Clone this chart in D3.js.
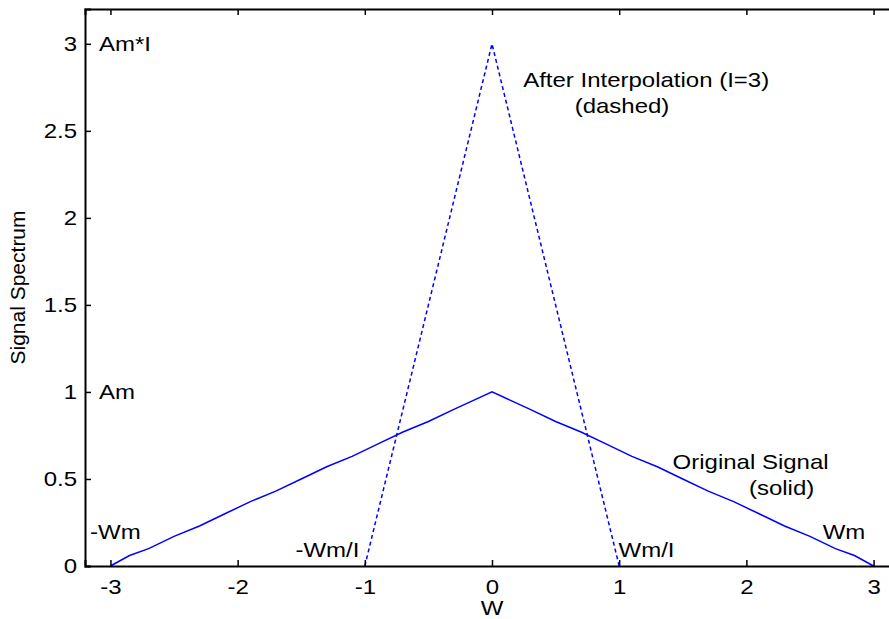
<!DOCTYPE html>
<html>
<head>
<meta charset="utf-8">
<script src="https://cdn.jsdelivr.net/npm/d3@7"></script>
<style>
  body { margin: 0; background: #fff; }
  svg { display: block; font-family: "Liberation Sans", Arial, sans-serif; }
  text { fill: #000; }
</style>
</head>
<body>
<div id="chart"></div>
<script>
// Original signal spectrum (solid): sampled triangle, -Wm..Wm, peak Am
const origW = [-3, -2.85, -2.7, -2.5, -2.3, -2.1, -1.9, -1.7, -1.5, -1.3, -1.1, -0.9, -0.7, -0.5, -0.3, -0.15, 0,
               0.15, 0.3, 0.5, 0.7, 0.9, 1.1, 1.3, 1.5, 1.7, 1.9, 2.1, 2.3, 2.5, 2.7, 2.85, 3];
const origA = [0, 0.06, 0.10, 0.17, 0.23, 0.30, 0.37, 0.43, 0.50, 0.57, 0.63, 0.70, 0.77, 0.83, 0.90, 0.95, 1,
               0.95, 0.90, 0.83, 0.77, 0.70, 0.63, 0.57, 0.50, 0.43, 0.37, 0.30, 0.23, 0.17, 0.10, 0.06, 0];
// After interpolation (dashed): -Wm/I..Wm/I, peak Am*I
const interpW = [-1, 0, 1];
const interpA = [0, 3, 0];

const xTicks = [-3, -2, -1, 0, 1, 2, 3];
const yTicks = [0, 0.5, 1, 1.5, 2, 2.5, 3];

// text notes: left edge in data x, baseline in data y
const notes = [
  { text: "Am*I", x: -3.09, y: 2.96 },
  { text: "Am", x: -3.09, y: 0.96 },
  { text: "-Wm", x: -3.16, y: 0.155 },
  { text: "-Wm/I", x: -1.545, y: 0.052 },
  { text: "Wm/I", x: 0.995, y: 0.052 },
  { text: "Wm", x: 2.6, y: 0.155 },
  { text: "After Interpolation (I=3)", x: 0.245, y: 2.753 },
  { text: "(dashed)", x: 0.65, y: 2.6 },
  { text: "Original Signal", x: 1.42, y: 0.557 },
  { text: "(solid)", x: 2.02, y: 0.41 }
];

const W = 889, H = 619;
const FONT = 20, SX = 1.2; // glyphs in the reference are stretched horizontally

const svg = d3.select("#chart").append("svg").attr("width", W).attr("height", H);

const x = d3.scaleLinear().domain([-3.2, 3.2]).range([85, 899]);
const y = d3.scaleLinear().domain([0, 3.2]).range([566, 9]);

const line = d3.line().x(d => x(d[0])).y(d => y(d[1]));

// series
svg.append("path")
  .datum(origW.map((w, i) => [w, origA[i]]))
  .attr("d", line)
  .attr("fill", "none")
  .attr("stroke", "#0000ff")
  .attr("stroke-width", 1.5);

svg.append("path")
  .datum(interpW.map((w, i) => [w, interpA[i]]))
  .attr("d", line)
  .attr("fill", "none")
  .attr("stroke", "#0000ff")
  .attr("stroke-width", 1.5)
  .attr("stroke-dasharray", "4,3");

// axes (MATLAB style: ticks inward, box)
const fmt = d => String(d);
const gx = svg.append("g").attr("transform", `translate(0,${y(0)})`)
  .call(d3.axisBottom(x).tickValues(xTicks).tickSize(-6).tickPadding(14).tickFormat(fmt));
const gxTop = svg.append("g").attr("transform", `translate(0,${y(3.2)})`)
  .call(d3.axisTop(x).tickValues(xTicks).tickSize(-6).tickFormat(""));
const gy = svg.append("g").attr("transform", `translate(${x(-3.2)},0)`)
  .call(d3.axisLeft(y).tickValues(yTicks).tickSize(-6).tickFormat(fmt));

[gx, gxTop, gy].forEach(g => {
  g.select(".domain").attr("stroke", "#000").attr("stroke-width", 2);
  g.selectAll(".tick line").attr("stroke", "#000").attr("stroke-width", 1.5);
  g.selectAll(".tick text")
    .style("font-size", FONT + "px")
    .style("font-family", "'Liberation Sans', Arial, sans-serif")
    .attr("fill", "#000")
    .attr("transform", `scale(${SX},1)`);
});
gy.selectAll(".tick text").attr("x", -8 / SX);

// axis labels
svg.append("text")
  .attr("transform", `translate(${x(0)},615) scale(${SX},1)`)
  .attr("text-anchor", "middle")
  .style("font-size", FONT + "px")
  .text("W");

svg.append("text")
  .attr("transform", `translate(25,${(y(0) + y(3.2)) / 2}) rotate(-90)`)
  .attr("text-anchor", "middle")
  .style("font-size", "21px")
  .text("Signal Spectrum");

// annotations
svg.append("g").selectAll("text")
  .data(notes)
  .join("text")
  .attr("transform", d => `translate(${x(d.x)},${y(d.y)}) scale(${SX},1)`)
  .style("font-size", FONT + "px")
  .text(d => d.text);
</script>
</body>
</html>
